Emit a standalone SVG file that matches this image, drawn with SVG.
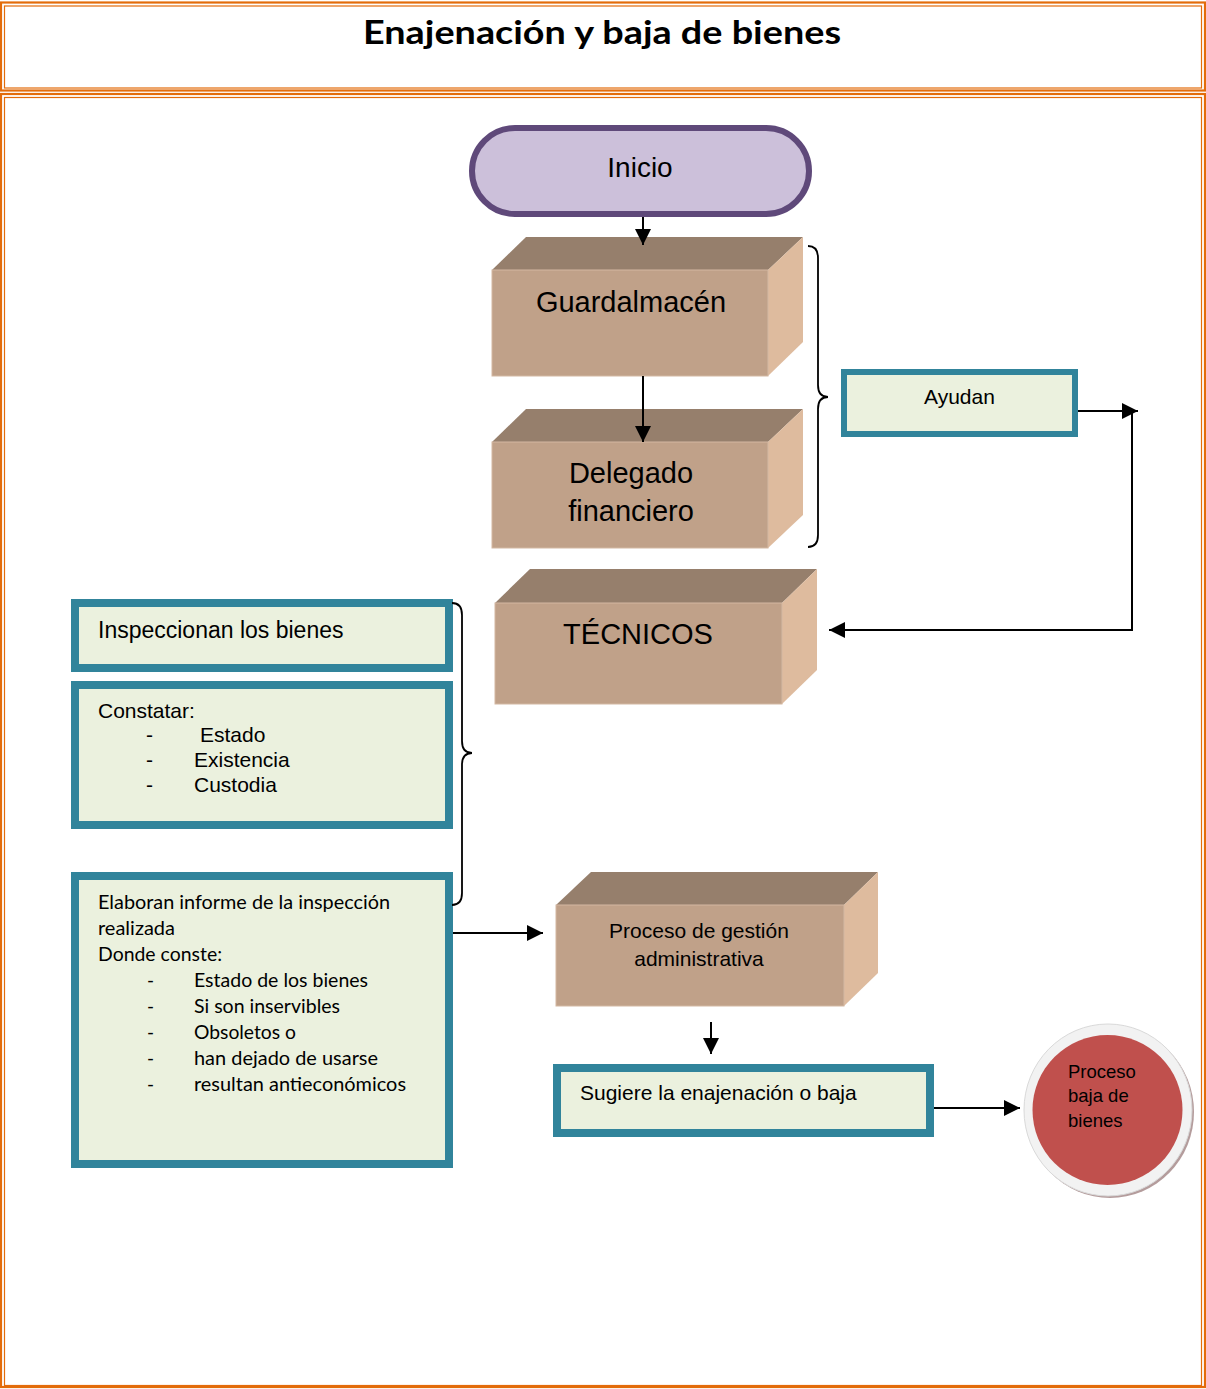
<svg xmlns="http://www.w3.org/2000/svg" width="1206" height="1389" viewBox="0 0 1206 1389">
  <style>
    .frame-thick { fill: none; stroke: #E36C0A; stroke-width: 2.2; }
    .frame-thin { fill: none; stroke: #E36C0A; stroke-width: 1.2; }
    .box-front { fill: #C0A189; stroke: #D3B8A2; stroke-width: 1; }
    .box-top { fill: #967F6C; }
    .box-side { fill: #DEBB9E; }
    .note { fill: #EBF1DE; stroke: #31849B; }
    .sans { font-family: "Liberation Sans", Arial, sans-serif; fill: #000; }
    .hum { font-family: Lato, "Open Sans", sans-serif; fill: #000; }
    .conn { fill: none; stroke: #000; stroke-width: 2; }
    .brace { fill: none; stroke: #000; stroke-width: 1.8; }
  </style>
  <defs>
    <marker id="arrow" markerUnits="userSpaceOnUse" markerWidth="16" markerHeight="16" refX="16" refY="8" orient="auto">
      <path d="M0,0 L16,8 L0,16 z" fill="#000"/>
    </marker>
  </defs>

  <rect width="1206" height="1389" fill="#fff"/>

  <!-- page frames -->
  <g id="frames">
    <rect class="frame-thick" x="1" y="2.5" width="1204" height="88"/>
    <rect class="frame-thin" x="4.5" y="6" width="1197" height="82"/>
    <rect class="frame-thick" x="1" y="94" width="1204" height="1293"/>
    <rect class="frame-thin" x="4.5" y="97.5" width="1197" height="1288"/>
  </g>

  <text id="title" class="hum" x="363" y="43.5" font-size="32" font-weight="bold" textLength="478" lengthAdjust="spacingAndGlyphs">Enajenación y baja de bienes</text>

  <!-- start terminator -->
  <g id="inicio">
    <rect x="472" y="128" width="337" height="86" rx="43" fill="#CCC0DA" stroke="#5F497A" stroke-width="6"/>
    <text class="sans" x="640" y="177" font-size="28" text-anchor="middle">Inicio</text>
  </g>

  <g id="guardalmacen">
    <polygon class="box-top" points="492,270 526,237 803,237 768,270"/>
    <polygon class="box-side" points="768,270 803,237 803,342 768,376"/>
    <rect class="box-front" x="492" y="270" width="276" height="106"/>
    <text class="sans" x="631" y="312" font-size="29" text-anchor="middle">Guardalmacén</text>
  </g>

  <g id="delegado">
    <polygon class="box-top" points="492,442 526,409 803,409 768,442"/>
    <polygon class="box-side" points="768,442 803,409 803,515 768,548"/>
    <rect class="box-front" x="492" y="442" width="276" height="106"/>
    <text class="sans" x="631" y="483" font-size="29" text-anchor="middle">Delegado</text>
    <text class="sans" x="631" y="521" font-size="29" text-anchor="middle">financiero</text>
  </g>

  <g id="ayudan">
    <rect class="note" x="844" y="372" width="231" height="62" stroke-width="6"/>
    <text class="sans" x="959.5" y="404" font-size="21" text-anchor="middle">Ayudan</text>
  </g>

  <g id="tecnicos">
    <polygon class="box-top" points="495,603 530,569 817,569 782,603"/>
    <polygon class="box-side" points="782,603 817,569 817,670 782,704"/>
    <rect class="box-front" x="495" y="603" width="287" height="101"/>
    <text class="sans" x="638" y="644" font-size="29" text-anchor="middle">TÉCNICOS</text>
  </g>

  <g id="inspeccionan">
    <rect class="note" x="75" y="603" width="374" height="65" stroke-width="8"/>
    <text class="sans" x="98" y="638" font-size="23">Inspeccionan los bienes</text>
  </g>

  <g id="constatar">
    <rect class="note" x="75" y="685" width="374" height="140" stroke-width="8"/>
    <g class="sans" font-size="21">
      <text x="98" y="718">Constatar:</text>
      <text x="146" y="742">-</text>
      <text x="200" y="742">Estado</text>
      <text x="146" y="767">-</text>
      <text x="194" y="767">Existencia</text>
      <text x="146" y="792">-</text>
      <text x="194" y="792">Custodia</text>
    </g>
  </g>

  <g id="informe">
    <rect class="note" x="75" y="876" width="374" height="288" stroke-width="8"/>
    <g class="hum" font-size="19">
      <text x="98" y="909" textLength="292" lengthAdjust="spacingAndGlyphs">Elaboran informe de la inspección</text>
      <text x="98" y="935" textLength="77" lengthAdjust="spacingAndGlyphs">realizada</text>
      <text x="98" y="961" textLength="124" lengthAdjust="spacingAndGlyphs">Donde conste:</text>
      <text x="147" y="987">-</text>
      <text x="194" y="987" textLength="174" lengthAdjust="spacingAndGlyphs">Estado de los bienes</text>
      <text x="147" y="1013">-</text>
      <text x="194" y="1013" textLength="146" lengthAdjust="spacingAndGlyphs">Si son inservibles</text>
      <text x="147" y="1039">-</text>
      <text x="194" y="1039" textLength="102" lengthAdjust="spacingAndGlyphs">Obsoletos o</text>
      <text x="147" y="1065">-</text>
      <text x="194" y="1065" textLength="184" lengthAdjust="spacingAndGlyphs">han dejado de usarse</text>
      <text x="147" y="1091">-</text>
      <text x="194" y="1091" textLength="212" lengthAdjust="spacingAndGlyphs">resultan antieconómicos</text>
    </g>
  </g>

  <g id="gestion">
    <polygon class="box-top" points="556,905 591,872 878,872 844,905"/>
    <polygon class="box-side" points="844,905 878,872 878,973 844,1006"/>
    <rect class="box-front" x="556" y="905" width="288" height="101"/>
    <text class="sans" x="699" y="938" font-size="21" text-anchor="middle">Proceso de gestión</text>
    <text class="sans" x="699" y="966" font-size="21" text-anchor="middle">administrativa</text>
  </g>

  <g id="sugiere">
    <rect class="note" x="557" y="1068" width="373" height="65" stroke-width="8"/>
    <text class="sans" x="580" y="1100" font-size="21">Sugiere la enajenación o baja</text>
  </g>

  <g id="baja">
    <ellipse cx="1110" cy="1112" rx="84" ry="86" fill="#B49C9C"/>
    <ellipse cx="1108" cy="1110" rx="84" ry="86" fill="#F2F2F2" stroke="#D9D9D9" stroke-width="1"/>
    <ellipse cx="1107.5" cy="1110" rx="75" ry="75" fill="#C0504D"/>
    <g class="sans" font-size="18.5" fill="#111">
      <text x="1068" y="1078">Proceso</text>
      <text x="1068" y="1102">baja de</text>
      <text x="1068" y="1127">bienes</text>
    </g>
  </g>

  <!-- connectors, drawn over the boxes -->
  <g id="connectors">
    <path class="conn" d="M643,217 V245" marker-end="url(#arrow)"/>
    <path class="conn" d="M643,376 V442" marker-end="url(#arrow)"/>
    <path class="conn" d="M1078,411 H1138" marker-end="url(#arrow)"/>
    <path class="conn" d="M1132,411 V630 H829" marker-end="url(#arrow)"/>
    <path class="conn" d="M453,933 H543" marker-end="url(#arrow)"/>
    <path class="conn" d="M711,1022 V1054" marker-end="url(#arrow)"/>
    <path class="conn" d="M934,1108 H1020" marker-end="url(#arrow)"/>
    <path class="brace" d="M808,246 C815,246 818,250 818,258 L818,385 C818,393 821,397 828,397 C821,397 818,401 818,409 L818,535 C818,543 815,547 808,547"/>
    <path class="brace" d="M452,603 C459,603 462,607 462,615 L462,741 C462,749 465,753 472,753 C465,753 462,757 462,765 L462,893 C462,901 459,905 452,905"/>
  </g>
</svg>
